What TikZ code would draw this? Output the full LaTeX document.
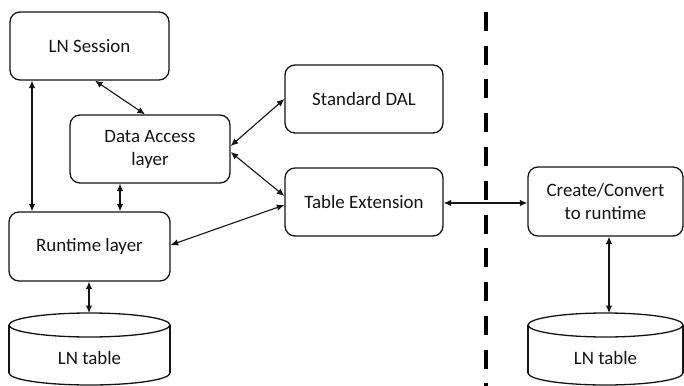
\documentclass[tikz,border=0pt]{standalone}
\usepackage{fontspec}
\setmainfont{Carlito}
\usetikzlibrary{arrows.meta}
\definecolor{ink}{HTML}{141414}
\tikzset{
  block/.style={draw=ink, line width=1.3pt, rounded corners=10pt, inner sep=0pt,
    align=center, text=ink, font=\fontsize{18.9}{23}\selectfont},
  link/.style={draw=ink, line width=1.1pt, {Latex[length=7.5pt,width=6.5pt]}-{Latex[length=7.5pt,width=6.5pt]}},
  drum/.style={draw=ink, line width=1.3pt},
  label/.style={text=ink, font=\fontsize{18.9}{23}\selectfont, inner sep=0pt},
  divider/.style={draw=black, line width=4pt, dash pattern=on 19pt off 14.75pt}
}
\begin{document}
\begin{tikzpicture}[x=1pt, y=-1pt]
\useasboundingbox (0,0) rectangle (684,385);

% boxes
\node[block, minimum width=159pt, minimum height=68pt] (ses) at (89.5,46) {LN Session};
\node[block, minimum width=160pt, minimum height=68pt] (dal) at (150,149) {Data Access\\layer};
\node[block, minimum width=158pt, minimum height=68pt] (sd)  at (364,99) {Standard DAL};
\node[block, minimum width=158pt, minimum height=68pt] (te)  at (364,202) {Table Extension};
\node[block, minimum width=161pt, minimum height=69pt] (rt)  at (89.5,246.5) {Runtime layer};
\node[block, minimum width=155pt, minimum height=69pt] (cc)  at (605.5,201.5) {Create/Convert\\to runtime};

% storage drums
\begin{scope}
  \clip (0,300) rectangle (684,385);
  % left drum
  \draw[drum] (9,325) -- (9,373);
  \draw[drum] (170,325) -- (170,373);
  \draw[drum] (89.5,325) ellipse [x radius=80.5, y radius=12];
  \begin{scope}
    \clip (0,373) rectangle (684,400);
    \draw[drum] (89.5,373) ellipse [x radius=80.5, y radius=12];
  \end{scope}
  % right drum
  \draw[drum] (528,325) -- (528,373);
  \draw[drum] (683,325) -- (683,373);
  \draw[drum] (605.5,325) ellipse [x radius=77.5, y radius=12];
  \begin{scope}
    \clip (0,373) rectangle (684,400);
    \draw[drum] (605.5,373) ellipse [x radius=77.5, y radius=12];
  \end{scope}
\end{scope}
\coordinate (tblLtop) at (89.5,313);
\coordinate (tblRtop) at (605.5,313);
\node[label] (tblL) at (89.5,358) {LN table};
\node[label] (tblR) at (605.5,358) {LN table};

% connectors
\draw[link] ([xshift=-57.5pt]ses.south) -- ([xshift=-57.5pt]rt.north);
\draw[link] ([xshift=5.5pt]ses.south) -- ([xshift=-5pt]dal.north);
\draw[link] ([xshift=-30pt]dal.south) -- ([xshift=30.5pt]rt.north);
\draw[link] ([yshift=3pt]dal.east) -- ([yshift=0pt]sd.west);
\draw[link] ([yshift=-3pt]dal.east) -- ([yshift=6pt]te.west);
\draw[link] ([yshift=1.5pt]rt.east) -- ([yshift=-3pt]te.west);
\draw[link] ([yshift=-1pt]te.east) -- ([yshift=-1.5pt]cc.west);
\draw[link] ([xshift=3.5pt]cc.south) -- ([xshift=3.5pt]tblRtop);
\draw[link] ([xshift=-0.5pt]rt.south) -- ([xshift=-0.5pt]tblLtop);

% dividing line
\coordinate (divtop) at (486,12);
\coordinate (divbot) at (486,400);
\draw[divider] (divtop) -- (divbot);
\end{tikzpicture}
\end{document}
